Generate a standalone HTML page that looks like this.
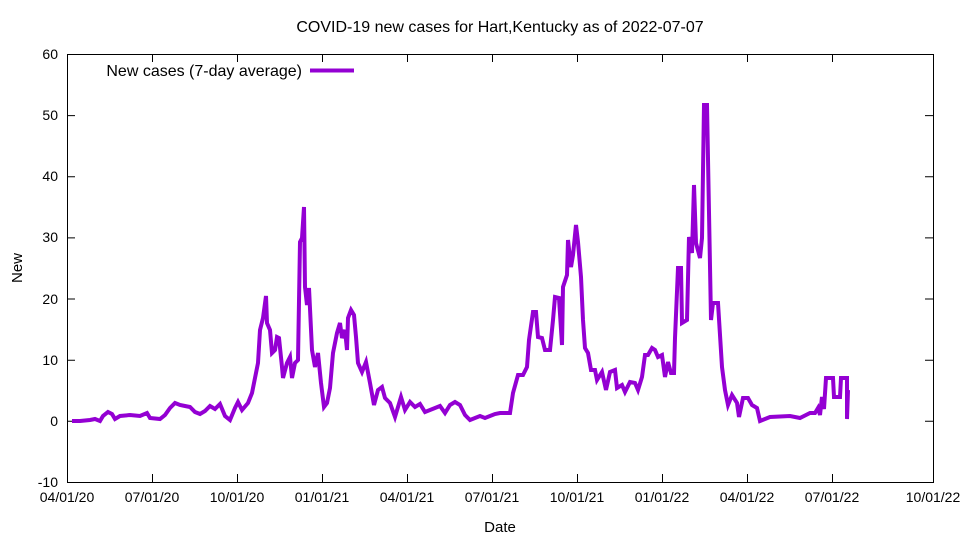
<!DOCTYPE html>
<html><head><meta charset="utf-8"><style>body{margin:0;background:#fff}svg{display:block}text{font-family:"Liberation Sans",sans-serif;font-size:14px;fill:#000}</style></head><body>
<svg width="960" height="540" viewBox="0 0 960 540">
<rect x="67.5" y="54.5" width="866" height="428" fill="none" stroke="#000" stroke-width="1"/>
<g stroke="#000" stroke-width="1">
<path d="M67 54.5h8M933 54.5h-8M67 115.6h8M933 115.6h-8M67 176.8h8M933 176.8h-8M67 237.9h8M933 237.9h-8M67 299h8M933 299h-8M67 360.2h8M933 360.2h-8M67 421.3h8M933 421.3h-8"/>
<path d="M152.5 482v-8M152.5 54v8M237.5 482v-8M237.5 54v8M322.5 482v-8M322.5 54v8M407.5 482v-8M407.5 54v8M492.5 482v-8M492.5 54v8M577.5 482v-8M577.5 54v8M662.5 482v-8M662.5 54v8M747.5 482v-8M747.5 54v8M832.5 482v-8M832.5 54v8"/>
</g>
<g text-anchor="end">
<text x="58" y="59">60</text><text x="58" y="120">50</text><text x="58" y="181">40</text><text x="58" y="242">30</text><text x="58" y="304">20</text><text x="58" y="365">10</text><text x="58" y="426">0</text><text x="58" y="487">-10</text>
</g>
<g text-anchor="middle">
<text x="67" y="502">04/01/20</text><text x="152" y="502">07/01/20</text><text x="237" y="502">10/01/20</text><text x="322" y="502">01/01/21</text><text x="407" y="502">04/01/21</text><text x="492" y="502">07/01/21</text><text x="577" y="502">10/01/21</text><text x="662" y="502">01/01/22</text><text x="747" y="502">04/01/22</text><text x="832" y="502">07/01/22</text><text x="933" y="502">10/01/22</text>
<text x="500" y="532" style="font-size:15px">Date</text>
<text x="500" y="32" style="font-size:16px">COVID-19 new cases for Hart,Kentucky as of 2022-07-07</text>
<text transform="translate(22 268) rotate(-90)" style="font-size:15px">New</text>
</g>
<text x="302" y="76" text-anchor="end" style="font-size:16px">New cases (7-day average)</text>
<path d="M310 70.5h44" stroke="#9400d3" stroke-width="4"/>
<polyline fill="none" stroke="#9400d3" stroke-width="4" stroke-linejoin="miter" points="72,421 80,421 90,420 95,419 100,421 103,416 108,412 112,414 115,419 120,416 130,415 140,416 147,413 150,418 160,419 165,415 170,408 175,403 180,405 185,406 190,407 195,412 200,414 205,411 210,406 215,409 220,404 225,416 230,420 235,408 238,402 242,410 248,403 252,393 255,378 258,363 260,330 263,318 266,296 267,323 270,330 272,353 275,350 277,337 279,338 282,367 283,378 287,363 290,357 292,378 295,363 298,360 300,242 302,238 304,207 305,287 307,305 309,288 312,350 315,367 318,353 321,383 324,407 327,403 330,388 333,353 337,333 340,323 342,338 345,330 347,350 348,318 351,310 354,315 356,337 358,363 362,372 366,362 370,383 374,405 378,390 382,387 385,398 390,403 395,417 401,397 405,410 410,402 415,407 420,404 425,412 430,410 435,408 440,406 445,413 450,405 455,402 460,405 465,415 470,420 475,418 480,416 485,418 490,416 495,414 500,413 510,413 513,393 518,375 523,375 527,367 529,340 533,312 536,312 538,337 542,338 545,350 550,350 553,320 555,297 559,298 562,345 563,287 567,275 568,240 571,267 573,255 576,225 578,242 581,277 583,320 585,348 588,353 591,370 595,370 597,380 602,372 606,390 610,372 615,370 617,388 622,385 625,392 630,382 635,383 638,390 642,377 645,355 648,355 652,348 655,350 658,357 662,355 665,377 668,362 671,373 674,373 675,338 678,268 681,268 682,323 687,320 689,237 692,253 694,185 696,243 700,258 702,238 704,105 707,105 711,320 713,303 718,303 722,367 725,390 728,405 732,395 737,403 739,417 743,398 748,398 752,405 757,408 760,421 770,417 790,416 800,418 810,413 815,413 818,408 820,415 822,397 824,409 826,378 833,378 834,397 840,397 841,378 847,378 847,419 848,390"/>
</svg>
</body></html>
